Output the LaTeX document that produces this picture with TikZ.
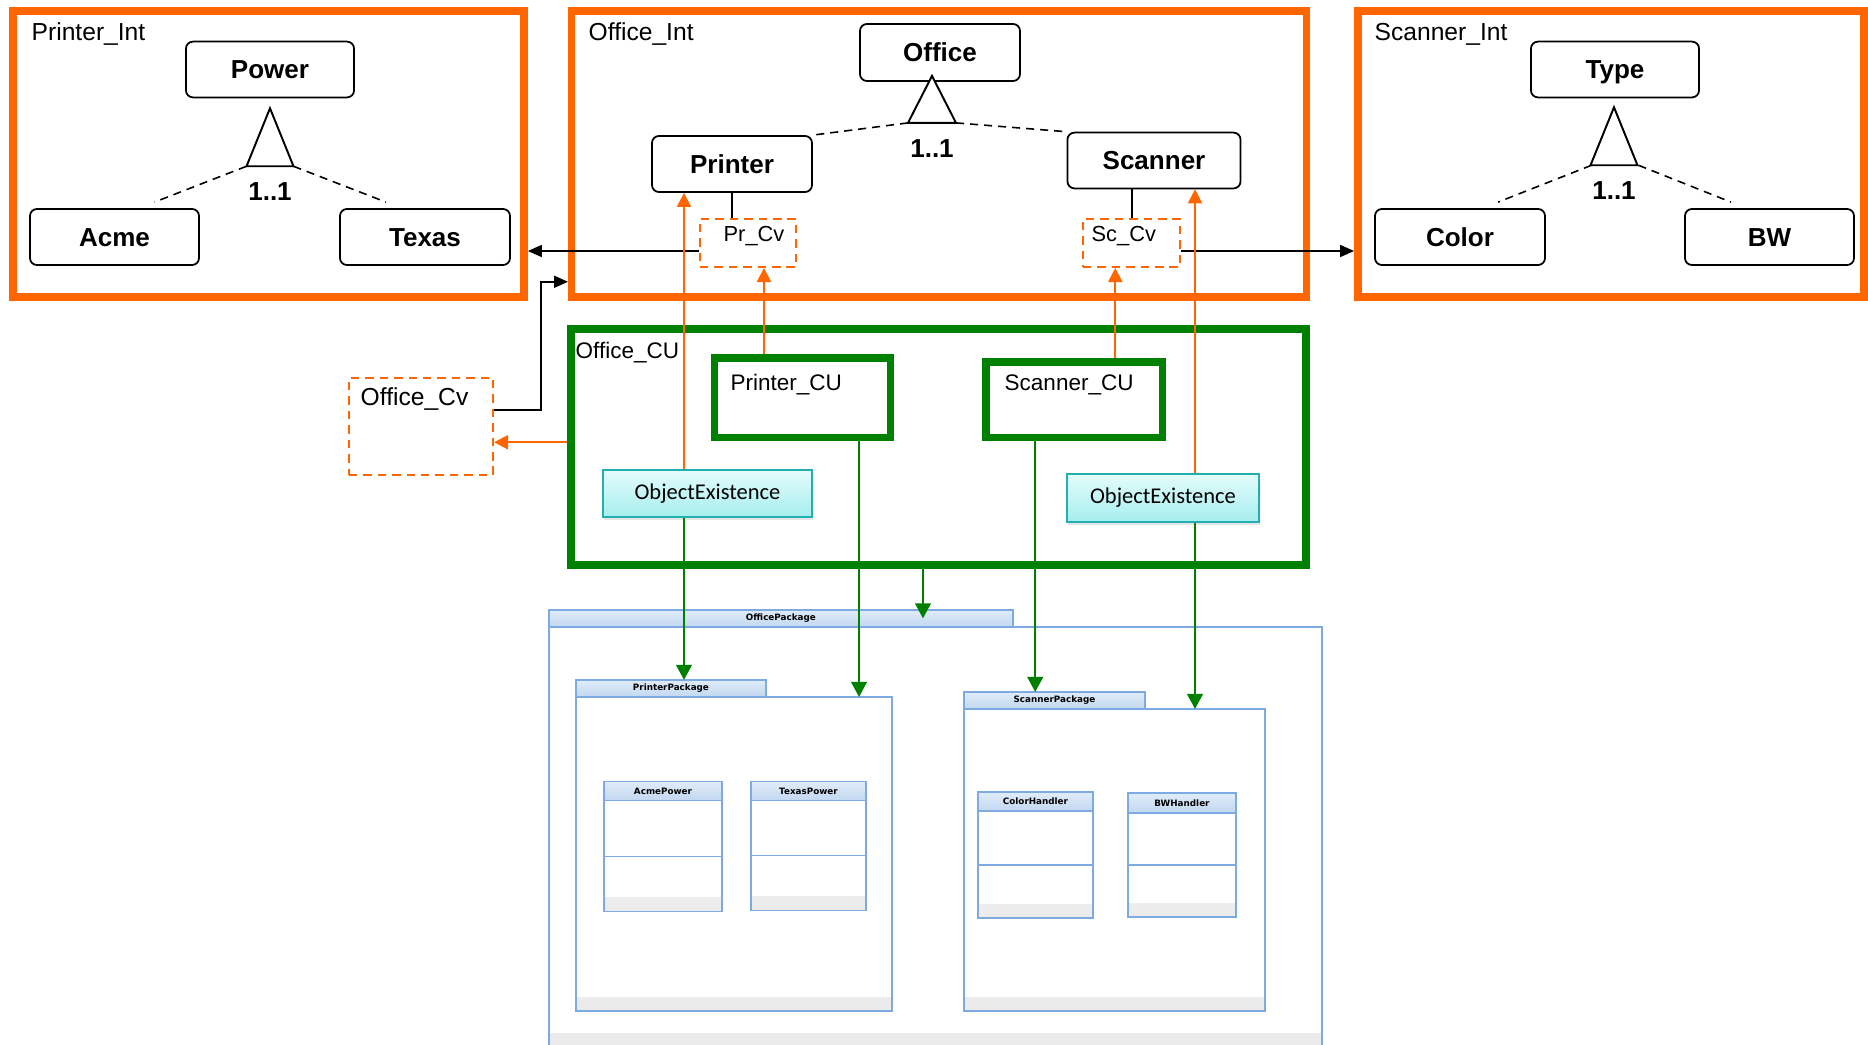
\documentclass[tikz,border=0pt]{standalone}
\usepackage{fontspec}
\setmainfont{Liberation Sans}
\newfontfamily\oefont{Carlito}
\newfontfamily\pkgfont{DejaVu Sans}
\usepackage{tikz}
\usetikzlibrary{arrows.meta,positioning,calc,shadows}
\definecolor{orangeC}{HTML}{FF6600}
\definecolor{greenC}{HTML}{008000}
\definecolor{tealC}{HTML}{22AFAF}
\definecolor{oeTop}{HTML}{E4FCFC}
\definecolor{oeBot}{HTML}{A6EEEE}
\definecolor{pkgblue}{HTML}{7DAAE0}
\definecolor{tabTop}{HTML}{E0ECF9}
\definecolor{tabBot}{HTML}{C2D7F0}
\tikzset{
  intframe/.style={rectangle, draw=orangeC, line width=2.1pt},
  cuframe/.style={rectangle, draw=greenC, line width=#1},
  feat/.style={rectangle, rounded corners=2pt, draw, line width=0.5pt, fill=white,
               text height=0.72em, text depth=0.2em,
               font=\fontsize{7.4}{8}\selectfont\bfseries},
  lbl/.style={anchor=west, inner sep=0pt, font=\fontsize{#1}{#1}\selectfont},
  mult/.style={inner sep=0pt, font=\fontsize{7.4}{8}\selectfont\bfseries},
  tri/.style={draw, line width=0.55pt, fill=white},
  dashl/.style={draw, dash pattern=on 2.3pt off 1.7pt, line width=0.45pt},
  cvbox/.style={rectangle, draw=orangeC, dash pattern=on 2.4pt off 1.7pt, line width=0.55pt},
  oebox/.style={rectangle, draw=tealC, line width=0.6pt, top color=oeTop, bottom color=oeBot,
                font=\oefont\fontsize{6.4}{7}\selectfont,
                drop shadow={shadow xshift=0.3pt, shadow yshift=-0.8pt, opacity=0.2}},
  pkgbody/.style={rectangle, draw=pkgblue, line width=0.5pt, fill=white, outer sep=0pt,
                  path picture={\shade[top color=white, bottom color=black!8]
                    (path picture bounding box.south west) rectangle ([yshift=0.14cm]path picture bounding box.south east);}},
  pkgtab/.style={rectangle, draw=pkgblue, line width=0.5pt, top color=tabTop, bottom color=tabBot,
                 outer sep=0pt, inner sep=0pt, minimum height=0.17cm,
                 font=\pkgfont\bfseries\fontsize{2.5}{3}\selectfont},
  divline/.style={draw=pkgblue, line width=0.5pt},
  blkarr/.style={-{Triangle[length=4pt,width=3.4pt]}, line width=0.5pt},
  orarr/.style={-{Triangle[length=4pt,width=4pt]}, orangeC, line width=0.55pt},
  grarr/.style={-{Triangle[length=4.3pt,width=4.5pt]}, greenC, line width=0.55pt},
}

\begin{document}
\begin{tikzpicture}[x=0.01cm, y=-0.01cm]
  \useasboundingbox (0,0) rectangle (1868,1045);

  % interfaces
  \node[intframe, minimum width=5.11cm, minimum height=2.86cm] (printint) at (268.5,154) {};
  \node[intframe, minimum width=7.34cm, minimum height=2.86cm] (officeint) at (939,154) {};
  \node[intframe, minimum width=5.06cm, minimum height=2.86cm] (scanint) at (1611,154) {};
  \node[lbl=7] (printintlbl) at (31,34.5) {Printer\_Int};
  \node[lbl=7] (officeintlbl) at (588,34) {Office\_Int};
  \node[lbl=7] (scanintlbl) at (1374,34.5) {Scanner\_Int};

  \node[feat, minimum width=1.68cm, minimum height=0.55cm] (power) at (270,69.5) {Power};
  \node[feat, minimum width=1.69cm, minimum height=0.56cm] (acme) at (114.5,237) {Acme};
  \node[feat, minimum width=1.70cm, minimum height=0.56cm] (texas) at (425,237) {Texas};
  \node[feat, minimum width=1.60cm, minimum height=0.57cm] (office) at (940,52.5) {Office};
  \node[feat, minimum width=1.60cm, minimum height=0.56cm] (printer) at (732,164) {Printer};
  \node[feat, minimum width=1.73cm, minimum height=0.55cm] (scanner) at (1154,160.5) {Scanner};
  \node[feat, minimum width=1.68cm, minimum height=0.55cm] (type) at (1615,69.5) {Type};
  \node[feat, minimum width=1.70cm, minimum height=0.56cm] (color) at (1460,237) {Color};
  \node[feat, minimum width=1.69cm, minimum height=0.56cm] (bw) at (1769.5,237) {BW};

  \draw[dashl] ($(power.south)+(-23.5,68)$) -- ($(acme.north)+(40,-6)$);
  \draw[dashl] ($(power.south)+(23.5,68)$) -- ($(texas.north)+(-39,-6)$);
  \draw[tri] ($(power.south)+(0,10)$) coordinate (ptop) -- ++(23.5,58) coordinate (pr) -- ++(-47,0) coordinate (pl) -- cycle;
  \node[mult] (pmult) at ($(pl)!0.5!(pr)+(0,25)$) {1..1};

  \draw[tri] ($(office.south)+(-8,-6)$) coordinate (otop) -- ++(24,47) coordinate (otr) -- ++(-48,0) coordinate (otl) -- cycle;
  \draw[dashl] (otl) -- (printer.north east);
  \draw[dashl] (otr) -- (scanner.north west);
  \node[mult] (omult) at ($(otl)!0.5!(otr)+(0,26)$) {1..1};

  \draw[dashl] ($(type.south)+(-23.5,67)$) -- ($(color.north)+(38,-6)$);
  \draw[dashl] ($(type.south)+(23.5,67)$) -- ($(bw.north)+(-38.5,-6)$);
  \draw[tri] ($(type.south)+(-1,9)$) coordinate (ttop) -- ++(23.5,58) coordinate (tr) -- ++(-47,0) coordinate (tl) -- cycle;
  \node[mult] (tmult) at ($(tl)!0.5!(tr)+(0,25)$) {1..1};

  % configuration views
  \node[cvbox, minimum width=0.96cm, minimum height=0.48cm] (prcv) at (748,243) {};
  \node[cvbox, minimum width=0.97cm, minimum height=0.48cm] (sccv) at (1131.5,243) {};
  \node[cvbox, minimum width=1.44cm, minimum height=0.97cm] (officecv) at (421,426.5) {};
  \node[lbl=6.2] (prcvlbl) at (723,236) {Pr\_Cv};
  \node[lbl=6.2] (sccvlbl) at (1091,236) {Sc\_Cv};
  \node[lbl=7] (officecvlbl) at (360,399) {Office\_Cv};

  \draw[line width=0.5pt] (printer.south) -- (printer.south |- prcv.north);
  \coordinate (scdrop) at ([xshift=-0.22cm]scanner.south);
  \draw[line width=0.5pt] (scdrop) -- (scdrop |- sccv.north);

  % configuration units
  \node[cuframe=2.3pt, minimum width=7.35cm, minimum height=2.355cm] (ocu) at (938.5,447.25) {};
  \node[cuframe=2.1pt, minimum width=1.76cm, minimum height=0.795cm] (prcu) at (802.5,397.75) {};
  \node[cuframe=2.1pt, minimum width=1.765cm, minimum height=0.755cm] (scu) at (1074.25,399.75) {};
  \node[lbl=6.4] (oculbl) at (575,352.5) {Office\_CU};
  \node[lbl=6.4] (prculbl) at (730,384.5) {Printer\_CU};
  \node[lbl=6.4] (sculbl) at (1004,384.5) {Scanner\_CU};
  \node[oebox, minimum width=2.09cm, minimum height=0.47cm] (oe1) at (707.5,493.5) {ObjectExistence};
  \node[oebox, minimum width=1.92cm, minimum height=0.48cm] (oe2) at (1163,498) {ObjectExistence};

  % packages
  \node[pkgbody, minimum width=7.73cm, minimum height=4.20cm] (offbody) at (935.5,837) {};
  \node[pkgtab, minimum width=4.64cm, anchor=south west] (offtab) at (offbody.north west) {OfficePackage};
  \node[pkgbody, minimum width=3.16cm, minimum height=3.14cm] (prbody) at (734,854) {};
  \node[pkgtab, minimum width=1.90cm, anchor=south west] (prtab) at (prbody.north west) {PrinterPackage};
  \node[pkgbody, minimum width=3.01cm, minimum height=3.02cm] (scbody) at (1114.5,860) {};
  \node[pkgtab, minimum width=1.81cm, anchor=south west] (sctab) at (scbody.north west) {ScannerPackage};

  \node[pkgtab, minimum width=1.18cm, minimum height=0.19cm] (acmehd) at (663,791) {AcmePower};
  \node[pkgbody, minimum width=1.18cm, minimum height=1.11cm, below=0pt of acmehd] (acmebd) {};
  \draw[divline] ([yshift=-0.56cm]acmehd.south west) -- ([yshift=-0.56cm]acmehd.south east);
  \node[pkgtab, minimum width=1.15cm, minimum height=0.19cm] (texashd) at (808.5,791) {TexasPower};
  \node[pkgbody, minimum width=1.15cm, minimum height=1.10cm, below=0pt of texashd] (texasbd) {};
  \draw[divline] ([yshift=-0.55cm]texashd.south west) -- ([yshift=-0.55cm]texashd.south east);
  \node[pkgtab, minimum width=1.15cm, minimum height=0.19cm] (colorhd) at (1035.5,801.5) {ColorHandler};
  \node[pkgbody, minimum width=1.15cm, minimum height=1.07cm, below=0pt of colorhd] (colorbd) {};
  \draw[divline] ([yshift=-0.54cm]colorhd.south west) -- ([yshift=-0.54cm]colorhd.south east);
  \node[pkgtab, minimum width=1.08cm, minimum height=0.20cm] (bwhd) at (1182,803) {BWHandler};
  \node[pkgbody, minimum width=1.08cm, minimum height=1.04cm, below=0pt of bwhd] (bwbd) {};
  \draw[divline] ([yshift=-0.52cm]bwhd.south west) -- ([yshift=-0.52cm]bwhd.south east);

  % links
  \coordinate (prout) at ([yshift=-0.08cm]prcv.west);
  \draw[blkarr] (prout) -- (prout -| printint.east);
  \coordinate (scout) at ([yshift=-0.08cm]sccv.east);
  \draw[blkarr] (scout) -- (scout -| scanint.west);
  \coordinate (ocvout) at ([yshift=0.165cm]officecv.east);
  \coordinate (oiin) at ([yshift=0.19cm]officeint.south west);
  \draw[blkarr] (ocvout) -- ++(47,0) |- (oiin);
  \coordinate (ocuout) at ([yshift=0.05cm]ocu.west);
  \draw[orarr] (ocuout) -- (ocuout -| officecv.east);

  \coordinate (a1) at ([xshift=-0.235cm]oe1.north);
  \draw[orarr] (a1) -- (a1 |- printer.south);
  \coordinate (a2) at ([xshift=-0.385cm]prcu.north);
  \draw[orarr] (a2) -- (a2 |- prcv.south);
  \coordinate (a3) at ([xshift=0.41cm]scu.north);
  \draw[orarr] (a3) -- (a3 |- sccv.south);
  \coordinate (a4) at ([xshift=0.32cm]oe2.north);
  \draw[orarr] (a4) -- (a4 |- scanner.south);

  \coordinate (g1) at ([xshift=-0.235cm]oe1.south);
  \draw[grarr] (g1) -- (g1 |- prtab.north);
  \coordinate (g2) at ([xshift=0.565cm]prcu.south);
  \draw[grarr] (g2) -- (g2 |- prbody.north);
  \coordinate (g3) at ([xshift=-0.155cm]ocu.south);
  \draw[grarr] (g3) -- (g3 |- offtab.center);
  \coordinate (g4) at ([xshift=-0.39cm]scu.south);
  \draw[grarr] (g4) -- (g4 |- sctab.north);
  \coordinate (g5) at ([xshift=0.32cm]oe2.south);
  \draw[grarr] (g5) -- (g5 |- scbody.north);
\end{tikzpicture}
\end{document}
